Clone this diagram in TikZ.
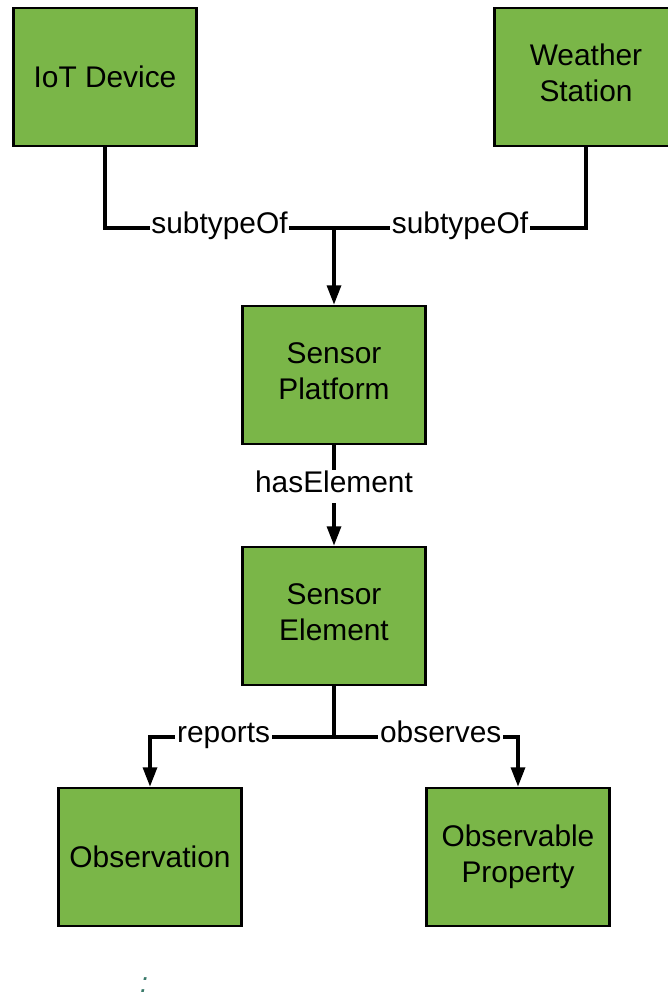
\documentclass[tikz,border=0pt]{standalone}
\usepackage{fontspec}
\setmainfont{Liberation Sans}
\usepackage{xcolor}
\usetikzlibrary{arrows.meta}

\definecolor{boxgreen}{HTML}{7AB648}
\definecolor{dotteal}{HTML}{3A7A6A}

\tikzset{
    box/.style={draw, fill=boxgreen, line width=1.6pt, minimum width=3.66cm,
	minimum height=2.76cm, align=center,
	font=\fontsize{17}{20.5}\selectfont},
    lbl/.style={fill=white, inner sep=1pt, text height=12pt, text depth=5.2pt,
	font=\fontsize{17}{20.5}\selectfont},
    link/.style={line width=1.8pt},
    arr/.style={line width=1.8pt, -{Triangle[length=11pt,width=8pt]}}
}

\begin{document}
\begin{tikzpicture}[x=0.02cm, y=-0.02cm]
    \useasboundingbox (0, 0) rectangle (667, 999);

    \path (105, 77) node [box] (iot) {IoT Device};
    \path (586, 77) node [box] (ws) {Weather\\Station\rule[-0.5ex]{0pt}{0pt}};
    \path (334, 375) node [box] (sp) {Sensor\\Platform\rule[-0.5ex]{0pt}{0pt}};
    \path (334, 616) node [box] (se) {Sensor\\Element\rule[-0.5ex]{0pt}{0pt}};
    \path (150, 857) node [box] (ob) {Observation};
    \path (518, 857) node [box] (op) {Observable\\Property};

    \coordinate (top) at (334, 228);
    \coordinate (bot) at (334, 737);

    \draw [link] (iot.south) |- (top) node[pos=0.75,lbl] {subtypeOf};
    \draw [link] (ws.south) |- (top) node[pos=0.75,lbl] {subtypeOf};
    \draw [arr] (top) -- (sp.north);

    \draw [arr] (sp.south) -- (se.north) node[pos=0.41,lbl] {hasElement};

    \draw [link] (se.south) -- (bot);
    \draw [arr] (bot) -| (ob.north) node[pos=0.3,lbl] {reports};
    \draw [arr] (bot) -| (op.north) node[pos=0.29,lbl] {observes};

    \path (144, 985) node [text=dotteal, inner sep=0pt,
	font=\itshape\fontsize{16}{18}\selectfont] (dots) {:};
\end{tikzpicture}
\end{document}
